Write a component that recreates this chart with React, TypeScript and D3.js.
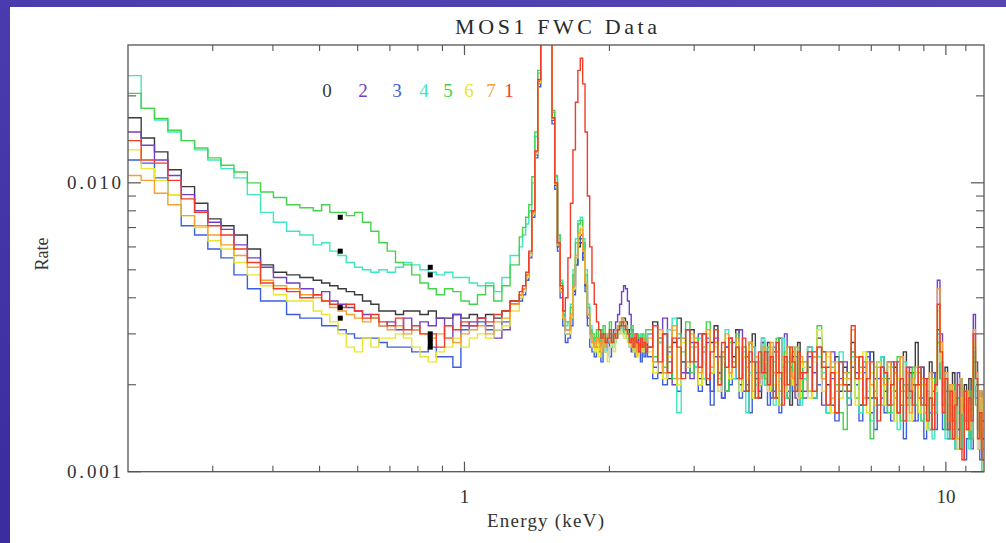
import React from 'react';
import * as d3 from 'd3';

// ---- energy grid (bin left edges, keV) ----
const E_LOW = [0.200, 0.213, 0.227, 0.242, 0.258, 0.275, 0.293, 0.312, 0.332, 0.354, 0.377, 0.401, 0.427, 0.455, 0.485, 0.505, 0.525, 0.546, 0.568, 0.591, 0.614, 0.639, 0.664, 0.691, 0.719, 0.747, 0.777, 0.808, 0.841, 0.874, 0.909, 0.946, 0.983, 1.023, 1.064, 1.106, 1.150, 1.196, 1.244];
const E_PEAK = [1.30, 1.32, 1.34, 1.36, 1.38, 1.40, 1.42, 1.44, 1.46, 1.48, 1.50, 1.52, 1.54, 1.56, 1.58, 1.60, 1.62, 1.64, 1.66, 1.68, 1.70, 1.72, 1.74, 1.76, 1.78, 1.80, 1.82, 1.84, 1.86, 1.88, 1.90, 1.92, 1.94, 1.96, 1.98, 2.00, 2.02, 2.04, 2.06, 2.08, 2.10, 2.12, 2.14, 2.16, 2.18, 2.20, 2.22, 2.24, 2.26, 2.28, 2.30, 2.32, 2.34, 2.36, 2.38];
const E_HIGH = [2.40, 2.46, 2.52, 2.58, 2.64, 2.70, 2.76, 2.82, 2.88, 2.94, 3.00, 3.06, 3.12, 3.18, 3.24, 3.30, 3.36, 3.42, 3.48, 3.54, 3.60, 3.66, 3.72, 3.78, 3.84, 3.90, 3.96, 4.02, 4.08, 4.14, 4.20, 4.26, 4.32, 4.38, 4.44, 4.50, 4.56, 4.62, 4.68, 4.74, 4.80, 4.86, 4.92, 4.98,
  5.04, 5.16, 5.28, 5.40, 5.52, 5.64, 5.76, 5.88, 6.00, 6.12, 6.24, 6.36, 6.48, 6.60, 6.72, 6.84, 6.96, 7.08, 7.20, 7.32, 7.44, 7.56, 7.68, 7.80, 7.92, 8.04, 8.16, 8.28, 8.40, 8.52, 8.64, 8.76, 8.88, 9.00, 9.12, 9.24, 9.36, 9.48, 9.60, 9.72, 9.84, 9.96, 10.08, 10.20, 10.32, 10.44, 10.56, 10.68, 10.80, 10.92, 11.04, 11.16, 11.28, 11.40, 11.52, 11.64, 11.76, 11.88];
const E_MAX = 12.0;

// rates in units of 1e-4 counts/s
const RATE_UNIT = 1e-4;

// ---- series 0 (black) ----
const LOW_0 = [168, 143, 128, 111, 97, 85, 75, 71, 66, 59, 52, 49, 48, 47, 46, 45, 44, 43, 42, 41, 39, 38, 36, 36, 35, 36, 36, 35, 36, 34, 34, 35, 34, 35, 34, 35, 34, 36, 39];
const PEAK_0 = [41, 43, 48, 57, 80, 128,
  225, 410, 610, 590, 370, 165, 98, 60, 42, 34, 31,
  31, 34, 42, 52, 60, 62, 55, 44, 35, 30, 29,
  28, 29, 27, 28, 29, 27, 28, 29, 28, 30, 31,
  32, 33, 34, 34, 33, 31, 30, 28, 29, 27, 28, 27, 29, 28, 27, 28];
const HIGH_0 = [27, 33, 22, 30, 21, 28, 34, 24, 22, 31,
  27, 21, 30, 20, 28, 32, 22, 26, 19, 29,
  25, 31, 20, 27, 19, 24, 30, 21, 18, 28,
  22, 28, 19, 26, 18, 29, 23, 20, 27, 17,
  25, 20, 28, 19,
  21, 27, 18, 29, 26, 20, 17, 25, 19, 23,
  20, 28, 25, 17, 24, 18, 26, 21, 17, 25,
  19, 24, 17, 23, 16, 21, 26, 18, 22, 20,
  28, 18, 23, 17, 21, 24, 17, 22, 31, 24,
  17, 23, 19, 15, 22, 18, 14, 21, 16, 20,
  15, 21, 17, 24, 20, 14, 19, 13];

// ---- series 2 (purple) ----
const LOW_2 = [150, 135, 120, 106, 91, 80, 73, 69, 61, 55, 51, 47, 45, 43, 41, 42, 39, 38, 37, 36, 35, 34, 32, 33, 31, 34, 31, 33, 32, 34, 29, 35, 32, 33, 34, 32, 29, 31, 38];
const PEAK_2 = [40, 42, 47, 56, 78, 125,
  220, 415, 615, 600, 375, 168, 100, 62, 43, 35, 30,
  30, 34, 44, 55, 64, 66, 57, 45, 34, 29, 28,
  27, 29, 28, 30, 27, 29, 28, 30, 29, 31, 33,
  35, 38, 42, 44, 43, 39, 35, 31, 29, 28, 27, 29, 28, 27, 28, 26];
const HIGH_2 = [30, 23, 28, 34, 24, 20, 29, 22, 31, 21,
  24, 30, 21, 28, 19, 29, 25, 18, 27, 22,
  21, 27, 31, 19, 25, 28, 18, 24, 20, 29,
  20, 26, 18, 27, 22, 17, 23, 30, 19, 24,
  26, 18, 21, 24,
  19, 25, 22, 27, 17, 23, 26, 16, 21, 24,
  18, 26, 22, 17, 23, 25, 16, 21, 24, 18,
  22, 17, 24, 19, 16, 25, 20, 17, 23, 15,
  20, 16, 23, 17, 21, 14, 19, 22, 46, 30,
  16, 21, 14, 19, 13, 18, 22, 12, 17, 15,
  18, 13, 16, 35, 24, 12, 17, 11];

// ---- series 3 (blue) ----
const LOW_3 = [120, 117, 104, 91, 71, 66, 59, 55, 48, 43, 39, 39, 35, 34, 34, 32, 32, 31, 30, 29, 29, 29, 28, 27, 27, 27, 26, 26, 27, 25, 25, 23, 31, 32, 33, 31, 31, 33, 38];
const PEAK_3 = [39, 41, 46, 55, 76, 122,
  215, 400, 600, 585, 365, 160, 95, 58, 40, 32, 28,
  29, 32, 41, 52, 62, 64, 54, 42, 32, 27, 26,
  25, 27, 26, 24, 27, 26, 28, 25, 27, 28, 29,
  30, 31, 32, 31, 30, 29, 27, 26, 28, 25, 27, 26, 24, 27, 25, 26];
const HIGH_3 = [25, 21, 29, 20, 26, 31, 19, 24, 22, 28,
  23, 19, 26, 29, 17, 25, 22, 18, 27, 20,
  28, 21, 18, 25, 20, 16, 27, 22, 19, 26,
  21, 17, 25, 19, 26, 16, 22, 24, 18, 23,
  19, 25, 17, 22,
  18, 23, 26, 20, 24, 16, 21, 15, 24, 19,
  17, 23, 20, 15, 22, 26, 18, 14, 21, 23,
  16, 21, 15, 19, 24, 17, 13, 20, 18, 22,
  15, 20, 18, 13, 19, 16, 22, 14, 30, 21,
  14, 19, 13, 17, 15, 12, 18, 14, 16, 11,
  13, 18, 12, 26, 18, 14, 11, 15];

// ---- series 4 (cyan) ----
const LOW_4 = [235, 181, 165, 150, 140, 130, 120, 112, 104, 91, 79, 73, 68, 66, 61, 62, 58, 56, 53, 51, 50, 49, 50, 49, 51, 53, 52, 50, 49, 48, 49, 47, 47, 45, 44, 45, 42, 47, 56];
const PEAK_4 = [60, 66, 72, 80, 100, 145,
  240, 430, 630, 610, 390, 175, 105, 66, 46, 36, 32,
  33, 38, 50, 64, 74, 76, 64, 50, 38, 32, 29,
  28, 30, 27, 31, 29, 26, 30, 28, 27, 29, 30,
  31, 32, 31, 30, 32, 29, 28, 30, 27, 29, 26, 28, 30, 27, 29, 28];
const HIGH_4 = [30, 24, 28, 22, 31, 34, 16, 29, 24, 27,
  23, 29, 21, 30, 22, 27, 20, 25, 31, 22,
  21, 28, 19, 26, 16, 22, 27, 20, 24, 29,
  20, 27, 23, 17, 26, 21, 29, 18, 24, 20,
  27, 19, 24, 17,
  21, 27, 18, 25, 22, 16, 24, 19, 26, 20,
  18, 25, 21, 16, 24, 19, 15, 23, 17, 25,
  17, 23, 16, 22, 14, 19, 24, 15, 21, 19,
  17, 23, 15, 20, 14, 18, 13, 17, 30, 22,
  18, 13, 20, 15, 17, 12, 16, 21, 14, 17,
  16, 12, 18, 27, 19, 13, 17, 11];

// ---- series 5 (green) ----
const LOW_5 = [204, 181, 167, 152, 140, 132, 122, 115, 109, 100, 93, 89, 84, 82, 80, 84, 79, 79, 77, 79, 73, 68, 62, 58, 53, 52, 48, 45, 43, 41, 43, 42, 39, 38, 41, 44, 39, 44, 52];
const PEAK_5 = [65, 70, 76, 84, 105, 150,
  245, 440, 640, 620, 395, 178, 106, 66, 45, 36, 33,
  33, 37, 48, 62, 72, 74, 62, 48, 37, 31, 30,
  29, 31, 28, 30, 32, 28, 30, 33, 29, 28, 30,
  31, 33, 32, 30, 31, 29, 30, 32, 28, 27, 30, 29, 27, 30, 28, 31];
const HIGH_5 = [31, 25, 29, 23, 27, 21, 30, 26, 33, 22,
  29, 20, 27, 33, 22, 28, 21, 25, 19, 28,
  24, 30, 21, 27, 19, 28, 18, 24, 22, 27,
  21, 27, 19, 24, 29, 17, 22, 26, 18, 25,
  20, 27, 22, 18,
  24, 19, 25, 32, 21, 17, 23, 20, 16, 14,
  22, 26, 18, 23, 17, 21, 13, 19, 24, 17,
  21, 16, 23, 18, 25, 15, 20, 17, 19, 23,
  17, 22, 15, 20, 18, 14, 21, 16, 28, 21,
  19, 14, 17, 13, 20, 15, 18, 12, 16, 19,
  14, 19, 13, 25, 17, 16, 13, 10];

// ---- series 6 (yellow) ----
const LOW_6 = [130, 112, 102, 91, 77, 70, 63, 59, 53, 48, 44, 41, 39, 39, 36, 35, 33, 30, 27, 26, 29, 27, 29, 29, 30, 29, 27, 25, 24, 26, 27, 29, 27, 29, 30, 29, 31, 32, 36];
const PEAK_6 = [40, 42, 47, 56, 78, 126,
  222, 412, 612, 595, 372, 166, 99, 61, 42, 34, 30,
  30, 34, 43, 55, 66, 70, 58, 45, 35, 29, 27,
  26, 28, 25, 27, 29, 26, 24, 27, 28, 26, 29,
  30, 31, 30, 29, 31, 28, 27, 29, 26, 28, 25, 27, 29, 26, 28, 27];
const HIGH_6 = [26, 22, 30, 21, 25, 31, 20, 28, 23, 29,
  27, 20, 24, 30, 22, 27, 19, 24, 29, 21,
  23, 28, 19, 25, 21, 27, 18, 23, 20, 26,
  24, 19, 27, 20, 25, 17, 24, 19, 27, 21,
  20, 26, 18, 24,
  23, 18, 24, 31, 19, 25, 16, 22, 18, 21,
  19, 24, 17, 22, 26, 16, 22, 18, 24, 20,
  17, 23, 19, 15, 21, 25, 17, 21, 15, 19,
  22, 16, 20, 18, 14, 21, 16, 19, 36, 24,
  16, 21, 15, 19, 17, 13, 12, 18, 16, 14,
  18, 14, 16, 28, 20, 12, 18, 14];

// ---- series 7 (orange) ----
const LOW_7 = [106, 102, 92, 84, 77, 71, 66, 61, 56, 51, 46, 44, 43, 41, 40, 39, 37, 36, 35, 34, 33, 34, 32, 31, 32, 30, 31, 30, 29, 30, 29, 28, 30, 31, 32, 30, 33, 34, 38];
const PEAK_7 = [41, 43, 48, 57, 79, 128,
  226, 418, 618, 598, 376, 167, 99, 61, 42, 34, 31,
  31, 35, 44, 56, 67, 69, 58, 45, 35, 30, 28,
  27, 29, 28, 26, 29, 27, 30, 28, 29, 30, 31,
  32, 33, 34, 33, 32, 30, 29, 27, 29, 28, 26, 28, 27, 29, 27, 28];
const HIGH_7 = [29, 24, 31, 22, 27, 32, 21, 29, 24, 30,
  28, 22, 26, 31, 23, 28, 20, 26, 30, 22,
  24, 29, 21, 27, 23, 28, 19, 25, 21, 27,
  25, 20, 28, 22, 26, 19, 25, 20, 27, 22,
  21, 27, 19, 25,
  24, 19, 25, 27, 21, 26, 18, 24, 20, 22,
  21, 31, 25, 21, 18, 24, 20, 17, 23, 21,
  20, 24, 17, 22, 16, 25, 19, 22, 16, 21,
  23, 18, 21, 16, 17, 22, 17, 20, 43, 28,
  17, 22, 15, 20, 14, 19, 13, 21, 16, 15,
  19, 14, 17, 31, 22, 13, 19, 12];

// ---- series 1 (red) ----
const LOW_1 = [140, 120, 117, 102, 88, 79, 71, 66, 59, 53, 45, 43, 42, 40, 41, 39, 38, 37, 38, 36, 34, 35, 33, 32, 34, 31, 32, 30, 30, 27, 32, 31, 33, 32, 34, 33, 35, 36, 39];
const PEAK_1 = [42, 44, 49, 58, 80, 129,
  228, 420, 620, 600, 378, 168, 100, 62, 44, 36, 40,
  55, 85, 130, 190, 245, 270, 220, 150, 90, 60, 45,
  38, 33, 31, 29, 30, 28, 29, 31, 28, 30, 29,
  31, 32, 33, 32, 31, 30, 28, 29, 27, 30, 28, 26, 29, 27, 28, 26];
const HIGH_1 = [27, 32, 24, 30, 22, 29, 27, 21, 31, 24,
  28, 23, 30, 21, 26, 31, 20, 28, 23, 29,
  23, 27, 21, 29, 19, 26, 24, 18, 26, 22,
  26, 20, 25, 18, 28, 22, 17, 25, 20, 27,
  24, 19, 26, 21,
  22, 26, 19, 27, 23, 17, 22, 16, 24, 20,
  19, 32, 21, 25, 17, 21, 24, 18, 15, 23,
  22, 17, 20, 24, 16, 21, 15, 23, 19, 17,
  20, 23, 17, 21, 15, 18, 14, 20, 38, 26,
  16, 21, 14, 19, 13, 17, 20, 12, 11, 19,
  14, 18, 15, 30, 21, 13, 16, 11];

// ---- legend / series identity ----
const SERIES_LABELS = ['0', '2', '3', '4', '5', '6', '7', '1'];
const SERIES_COLORS = ['#3a3a3a', '#7040c8', '#3c5ee0', '#3fe6c0', '#44d44c', '#e6e633', '#f5a030', '#f23a28'];
const SERIES_LOW = [LOW_0, LOW_2, LOW_3, LOW_4, LOW_5, LOW_6, LOW_7, LOW_1];
const SERIES_PEAK = [PEAK_0, PEAK_2, PEAK_3, PEAK_4, PEAK_5, PEAK_6, PEAK_7, PEAK_1];
const SERIES_HIGH = [HIGH_0, HIGH_2, HIGH_3, HIGH_4, HIGH_5, HIGH_6, HIGH_7, HIGH_1];

// black square markers
const MARKER_E = [0.552, 0.552, 0.552, 0.552, 0.849, 0.849, 0.849, 0.849, 0.849, 0.849];
const MARKER_RATE = [0.0076, 0.0058, 0.0037, 0.0034, 0.0051, 0.0048, 0.0030, 0.0029, 0.0028, 0.0027];

// axes
const X_MAJOR = [1, 10];
const X_MAJOR_LABELS = ['1', '10'];
const X_MINOR = [0.3, 0.4, 0.5, 0.6, 0.7, 0.8, 0.9, 2, 3, 4, 5, 6, 7, 8, 9, 11];
const Y_MAJOR = [0.001, 0.01];
const Y_MAJOR_LABELS = ['0.001', '0.010'];
const Y_MINOR = [0.002, 0.003, 0.004, 0.005, 0.006, 0.007, 0.008, 0.009, 0.02];

const TITLE = 'MOS1 FWC Data';
const X_TITLE = 'Energy (keV)';
const Y_TITLE = 'Rate';

export default function App() {
  const W = 1006, H = 543;
  const L = 128, R = 984, T = 45, B = 471.7;
  const x = d3.scaleLog().domain([0.2, 12]).range([L, R]);
  const y = d3.scaleLog().domain([0.001, 0.03]).range([B, T]);
  const line = d3.line<[number, number]>()
    .x(d => x(d[0]))
    .y(d => y(d[1]))
    .curve(d3.curveStepAfter);

  const paths = SERIES_LABELS.map((lab, k) => {
    const pts: [number, number][] = [];
    const add = (es: number[], vs: number[]) => {
      const n = Math.min(es.length, vs.length);
      for (let i = 0; i < n; i++) pts.push([es[i], vs[i] * RATE_UNIT]);
    };
    add(E_LOW, SERIES_LOW[k]);
    add(E_PEAK, SERIES_PEAK[k]);
    add(E_HIGH, SERIES_HIGH[k]);
    pts.push([E_MAX, pts[pts.length - 1][1]]);
    return { d: line(pts) || '', color: SERIES_COLORS[k], lab };
  });

  const legendX = [327, 363, 397, 424, 448, 469, 491, 509];
  const serif = "'Liberation Serif', 'DejaVu Serif', serif";
  const axisCol = '#555';

  return (
    <svg width={W} height={H} style={{ position: 'fixed', left: 0, top: 0 }} xmlns="http://www.w3.org/2000/svg">
      <defs>
        <clipPath id="plotclip">
          <rect x={L} y={T} width={R - L} height={B - T} />
        </clipPath>
        <linearGradient id="leftbar" x1="0" y1="0" x2="0" y2="1">
          <stop offset="0" stopColor="#4a3cae" />
          <stop offset="1" stopColor="#3a2b9e" />
        </linearGradient>
        <linearGradient id="topbar" x1="0" y1="0" x2="1" y2="0">
          <stop offset="0" stopColor="#4a3cae" />
          <stop offset="1" stopColor="#5646b2" />
        </linearGradient>
      </defs>
      <rect x={0} y={0} width={W} height={H} fill="#ffffff" />
      <rect x={0} y={0} width={W} height={7} fill="url(#topbar)" />
      <rect x={0} y={0} width={10} height={H} fill="url(#leftbar)" />

      {/* title */}
      <text x={455} y={34} fontFamily={serif} fontSize={22} fill="#2a2a2a" textLength={202} lengthAdjust="spacing">{TITLE}</text>

      {/* data */}
      <g clipPath="url(#plotclip)">
        {paths.map(p => (
          <path key={p.lab} d={p.d} fill="none" stroke={p.color} strokeWidth={1.4} strokeLinejoin="miter" />
        ))}
        {MARKER_E.map((e, i) => (
          <rect key={i} x={x(e) - 2.5} y={y(MARKER_RATE[i]) - 2.5} width={5} height={5} fill="#000" />
        ))}
      </g>

      {/* frame */}
      <rect x={L} y={T} width={R - L} height={B - T} fill="none" stroke={axisCol} strokeWidth={1.3} />

      {/* x ticks */}
      {X_MAJOR.map((v, i) => (
        <g key={'xM' + i}>
          <line x1={x(v)} x2={x(v)} y1={B} y2={B - 10} stroke={axisCol} strokeWidth={1.2} />
          <line x1={x(v)} x2={x(v)} y1={T} y2={T + 10} stroke={axisCol} strokeWidth={1.2} />
          <text x={x(v)} y={503} textAnchor="middle" fontFamily={serif} fontSize={19} fill="#333">{X_MAJOR_LABELS[i]}</text>
        </g>
      ))}
      {X_MINOR.map((v, i) => (
        <g key={'xm' + i}>
          <line x1={x(v)} x2={x(v)} y1={B} y2={B - 6} stroke={axisCol} strokeWidth={1.1} />
          <line x1={x(v)} x2={x(v)} y1={T} y2={T + 6} stroke={axisCol} strokeWidth={1.1} />
        </g>
      ))}

      {/* y ticks */}
      {Y_MAJOR.map((v, i) => (
        <g key={'yM' + i}>
          <line x1={L} x2={L + 13} y1={y(v)} y2={y(v)} stroke={axisCol} strokeWidth={1.2} />
          <line x1={R} x2={R - 13} y1={y(v)} y2={y(v)} stroke={axisCol} strokeWidth={1.2} />
          <text x={67} y={y(v) + 6} fontFamily={serif} fontSize={19} fill="#333" textLength={54} lengthAdjust="spacing">{Y_MAJOR_LABELS[i]}</text>
        </g>
      ))}
      {Y_MINOR.map((v, i) => (
        <g key={'ym' + i}>
          <line x1={L} x2={L + 8} y1={y(v)} y2={y(v)} stroke={axisCol} strokeWidth={1.1} />
          <line x1={R} x2={R - 8} y1={y(v)} y2={y(v)} stroke={axisCol} strokeWidth={1.1} />
        </g>
      ))}

      {/* axis titles */}
      <text x={487} y={527} fontFamily={serif} fontSize={19} fill="#333" textLength={117} lengthAdjust="spacing">{X_TITLE}</text>
      <text transform="translate(48,254) rotate(-90)" textAnchor="middle" fontFamily={serif} fontSize={18} fill="#333">{Y_TITLE}</text>

      {/* legend */}
      {SERIES_LABELS.map((lab, i) => (
        <text key={'lg' + i} x={legendX[i]} y={97} textAnchor="middle" fontFamily={serif} fontSize={19} fill={SERIES_COLORS[i]}>{lab}</text>
      ))}
    </svg>
  );
}
